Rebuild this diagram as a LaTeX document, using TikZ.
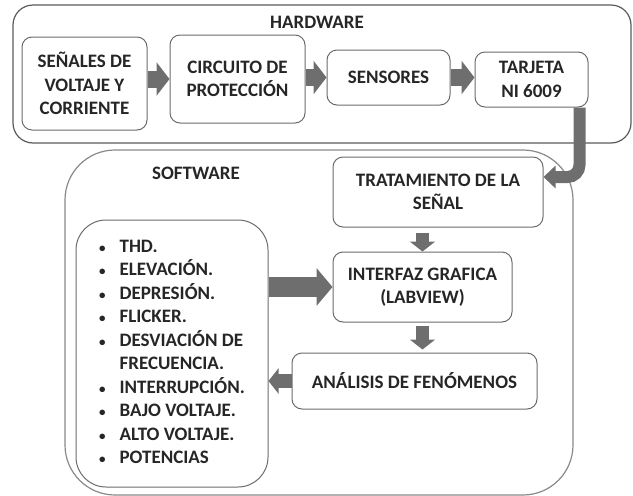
\documentclass[tikz,border=0pt]{standalone}
\usepackage{fontspec}
\setmainfont{Carlito}
\usetikzlibrary{arrows.meta}
\definecolor{borde}{HTML}{6B6B6B}
\definecolor{marcogris}{HTML}{5A5A5A}
\definecolor{texto}{HTML}{262626}
\definecolor{flechagris}{HTML}{6E6E6E}
\newcommand{\punto}{{\fontsize{13}{13}\selectfont\textbullet}}

\begin{document}
\begin{tikzpicture}[x=1pt, y=-1pt]
	\useasboundingbox (0,0) rectangle (633,496);
	\tikzset{
		caja/.style={draw=borde, line width=1pt, rounded corners=10pt, align=center, inner sep=0pt,
			text=texto, font=\fontsize{19}{23.5}\selectfont\bfseries},
		etiqueta/.style={text=texto, font=\fontsize{19}{23.5}\selectfont\bfseries},
		marco/.style={draw=marcogris, line width=1.2pt},
		% Usage: flecha={shaft}{head width}{head length}
		flecha/.style n args={3}{draw=flechagris, line width=#1, -{Triangle[width=#2, length=#3]}}
	}

	% Macro for a rounded box at a given centre.
	% Usage: \caja{name}{x}{y}{width}{height}{text}
	\newcommand{\caja}[6]{
		\node[caja, minimum width=#4pt, minimum height=#5pt] (#1) at (#2,#3) {#6};
	}

	% Draw the two outer frames
	\draw[marco, rounded corners=20pt] (13,5) rectangle (631,143);
	\draw[marco, draw=borde!80, rounded corners=50pt] (65,150) rectangle (573,495);
	\node[etiqueta] (hw) at (317,22) {HARDWARE};
	\node[etiqueta] (sw) at (196,173) {SOFTWARE};

	% Hardware chain
	\caja{sen}{84.5}{83.5}{125}{93}{SEÑALES DE\\VOLTAJE Y\\CORRIENTE};
	\caja{cir}{237.5}{79}{135}{88}{CIRCUITO DE\\PROTECCIÓN};
	\caja{sens}{388.5}{77.5}{123}{55}{SENSORES};
	\caja{tar}{531.5}{79.5}{113}{55}{TARJETA\\NI 6009};

	% Software chain
	\caja{tra}{438}{192}{210}{70}{TRATAMIENTO DE LA\\SEÑAL};
	\caja{int}{422.5}{287}{179}{70}{INTERFAZ GRAFICA\\(LABVIEW)};
	\caja{ana}{414.5}{381}{245}{56}{ANÁLISIS DE FENÓMENOS};
	\node[caja, rounded corners=30pt, minimum width=192pt, minimum height=267pt] (lis) at (172,353.5)
		{\begin{tabular}{@{}l@{\hspace{14pt}}l@{}}
			\punto & THD.\\
			\punto & ELEVACIÓN.\\
			\punto & DEPRESIÓN.\\
			\punto & FLICKER.\\
			\punto & DESVIACIÓN DE\\
			       & FRECUENCIA.\\
			\punto & INTERRUPCIÓN.\\
			\punto & BAJO VOLTAJE.\\
			\punto & ALTO VOLTAJE.\\
			\punto & POTENCIAS\hspace{4pt}
		\end{tabular}};

	% Arrows between the boxes
	\draw[flecha={17pt}{33pt}{13pt}] (sen.east |- cir.west) -- (cir.west);
	\draw[flecha={17pt}{33pt}{13pt}] (cir.east |- sens.west) -- (sens.west);
	\draw[flecha={17pt}{33pt}{13pt}] (sens.east) -- (sens.east -| tar.west);
	\coordinate (codo) at (0,177);
	\draw[flecha={12pt}{22pt}{12pt}, rounded corners=12pt] ([xshift=-9pt]tar.south east) |- (tra.east |- codo);
	\draw[flecha={13pt}{25pt}{10pt}, shorten <=5pt] (int.north |- tra.south) -- (int.north);
	\draw[flecha={13pt}{25pt}{10pt}, shorten <=3pt] (int.south) -- ([yshift=3pt]int.south |- ana.north);
	\draw[flecha={20pt}{37pt}{16pt}] (lis.east |- int.west) -- (int.west);
	\draw[flecha={14pt}{25pt}{10pt}] (ana.west) -- (ana.west -| lis.east);
\end{tikzpicture}
\end{document}
